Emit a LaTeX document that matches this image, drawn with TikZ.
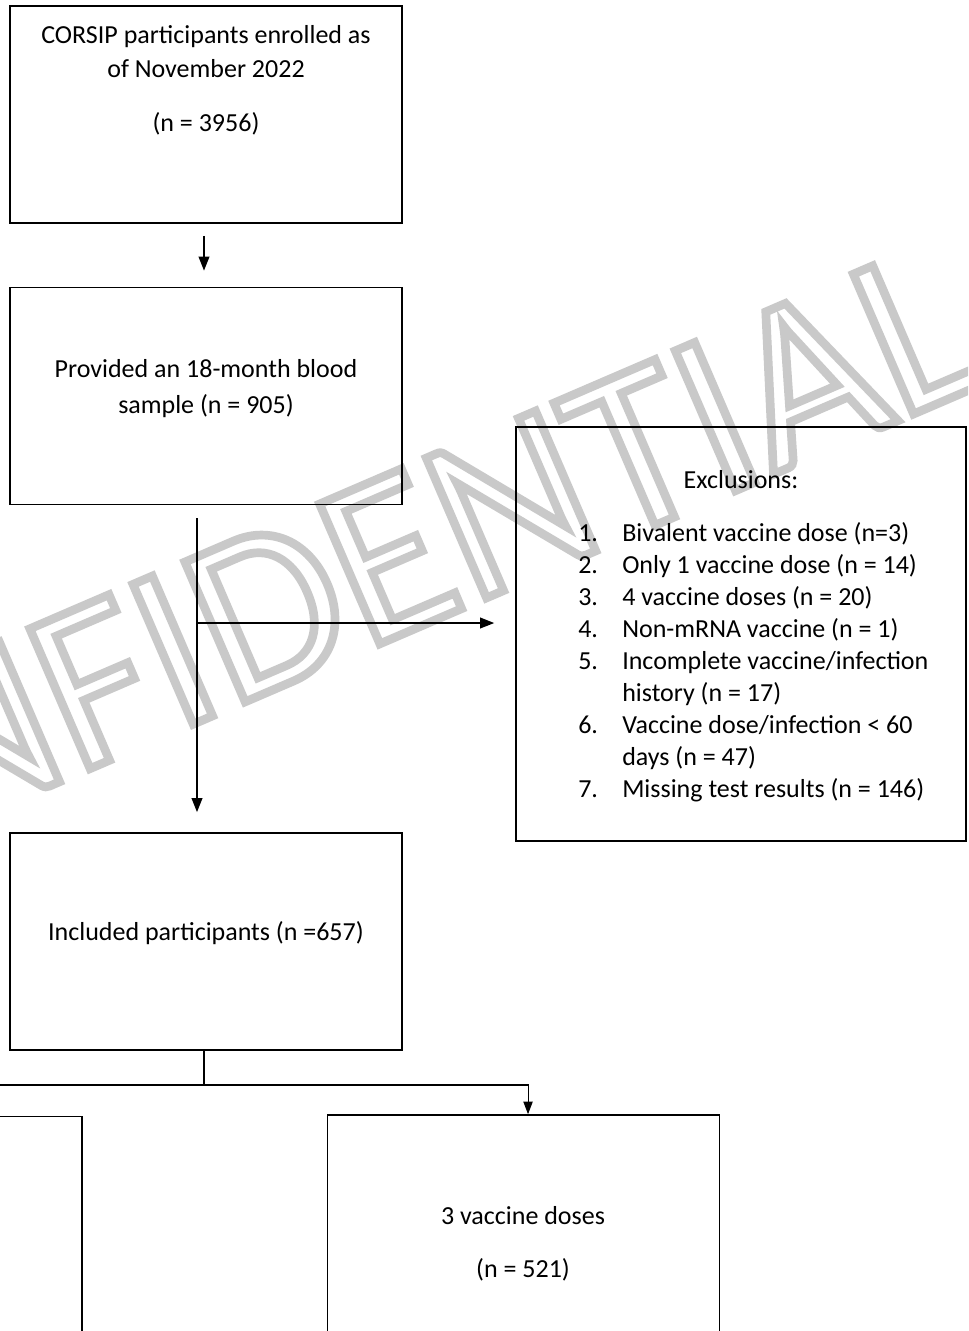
\documentclass[tikz,border=0pt]{standalone}
\usepackage{fontspec}
\setmainfont{Carlito}
\newfontfamily\wmfont{Carlito}
\usetikzlibrary{arrows.meta}
\tikzset{
  box/.style={draw, line width=1.2pt, minimum width=294pt, minimum height=162.75pt, inner sep=0pt},
  txt/.style={font=\fontsize{19.5}{24}\selectfont, inner sep=0pt, anchor=base},
  arr/.style={line width=1.2pt, -{Triangle[length=10.5pt,width=8pt]}},
  thinline/.style={line width=0.8pt},
  thinarr/.style={line width=0.8pt, -{Triangle[length=9.5pt,width=7pt]}}
}
\begin{document}
\begin{tikzpicture}[x=0.75pt,y=-0.75pt]
\useasboundingbox (0,0) rectangle (968,1331);
\clip (0,0) rectangle (968,1331);
\fill[white] (0,0) rectangle (968,1331);
% watermark (outlined text)
\node[rotate=23.3, inner sep=0pt, font=\wmfont\fontsize{178}{178}\selectfont] (wm) at (303,594) {\special{pdf:literal direct 1 Tr 6.5 w 0.79 G}CONFIDENTIAL\special{pdf:literal direct 0 Tr 0 G}};
% boxes
\node[box] (b1) at (206,114.5) {};
\node[txt] (t1a) at (206,44) {CORSIP participants enrolled as};
\node[txt] (t1b) at (206,78) {of November 2022};
\node[txt] (t1c) at (206,132) {(n = 3956)};
\node[box] (b2) at (206,396) {};
\node[txt] (t2a) at (206,377) {Provided an 18-month blood};
\node[txt] (t2b) at (206,413) {sample (n = 905)};
\node[box] (b3) at (206,941.5) {};
\node[txt] (t3) at (206,940) {Included participants (n =657)};
\node[box, minimum width=337.5pt, minimum height=310.5pt] (ex) at (741,634) {};
\node[txt] (ext) at (741,488) {Exclusions:};
\node[txt, anchor=base west] (exl) at (578,541) {\begin{tabular}[t]{@{}p{33pt}@{}l@{}}
1. & Bivalent vaccine dose (n=3)\\
2. & Only 1 vaccine dose (n = 14)\\
3. & 4 vaccine doses (n = 20)\\
4. & Non-mRNA vaccine (n = 1)\\
5. & Incomplete vaccine/infection\\
   & history (n = 17)\\
6. & Vaccine dose/infection < 60\\
   & days (n = 47)\\
7. & Missing test results (n = 146)
\end{tabular}};
\node[box, minimum height=165pt] (bl) at (-114,1226.5) {};
\node[box, minimum height=165pt] (br) at (523.5,1225) {};
\node[txt] (tra) at (523,1224) {3 vaccine doses};
\node[txt] (trb) at (523,1277) {(n = 521)};
% connectors
\draw[arr, shorten <=9pt, shorten >=12pt] ([xshift=-1.5pt]b1.south) -- ([xshift=-1.5pt]b2.north);
\coordinate (split) at (197,623);
\draw[arr, shorten <=9.75pt, shorten >=15pt] ([xshift=-6.75pt]b2.south) -- ([xshift=-6.75pt]b3.north);
\draw[arr, shorten >=15.75pt] (split) -- (split -| ex.west);
\coordinate (j) at (204,1085);
\draw[thinline] ([xshift=-1.5pt]b3.south) -- (j);
\draw[thinarr] (j) -| (bl.north);
\draw[thinarr] (j) -| ([xshift=3.4pt]br.north);
\end{tikzpicture}
\end{document}
